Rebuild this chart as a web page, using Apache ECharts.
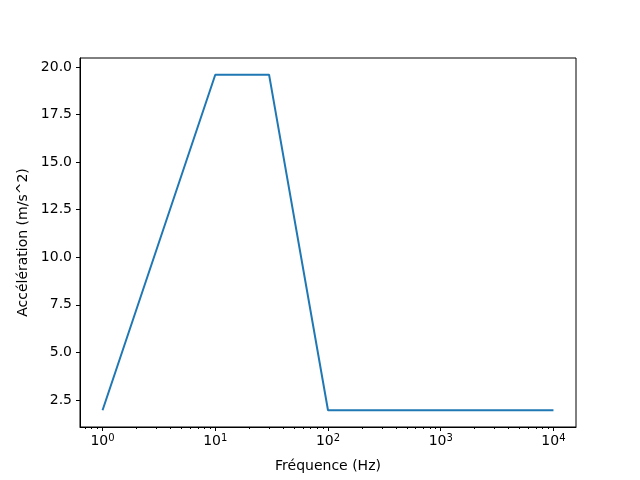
<!DOCTYPE html>
<html>
<head>
<meta charset="utf-8">
<script src="https://cdn.jsdelivr.net/npm/echarts@6/dist/echarts.min.js"></script>
<style>
  html, body { margin: 0; padding: 0; background: #fff; }
  #main { width: 640px; height: 480px; }
</style>
</head>
<body>
<div id="main"></div>
<script>
// données
var frequences = [1, 10, 30, 100, 10000];
var accelerations = [1.96, 19.6, 19.6, 1.96, 1.96];
var xMajor = [1, 10, 100, 1000, 10000];
var xMinor = [0.7, 0.8, 0.9, 2, 3, 4, 5, 6, 7, 8, 9, 20, 30, 40, 50, 60, 70, 80, 90,
  200, 300, 400, 500, 600, 700, 800, 900, 2000, 3000, 4000, 5000, 6000, 7000, 8000, 9000];
var yTicks = [2.5, 5, 7.5, 10, 12.5, 15, 17.5, 20];

var font = "DejaVu Sans";
var myChart = echarts.init(document.getElementById("main"));

var points = frequences.map(function (f, i) {
  return [f, accelerations[i]];
});

myChart.setOption({
  backgroundColor: "#fff",
  animation: false,
  grid: {
    left: 80,
    right: 64,
    top: 58,
    bottom: 53,
    show: true,
    borderColor: "#000",
    borderWidth: 1,
  },
  xAxis: [
    {
      type: "log",
      logBase: 10,
      min: Math.pow(10, -0.2),
      max: Math.pow(10, 4.2),
      position: "bottom",
      name: "Fréquence (Hz)",
      nameLocation: "middle",
      nameGap: 32,
      nameTextStyle: { fontFamily: font, fontSize: 14, color: "#000" },
      axisLine: { show: true, lineStyle: { color: "#000", width: 1 } },
      axisTick: { show: true, length: 4, lineStyle: { color: "#000" }, customValues: xMajor },
      splitLine: { show: false },
      axisLabel: {
        customValues: xMajor,
        margin: 6,
        fontFamily: font,
        fontSize: 14,
        color: "#000",
        formatter: function (v) {
          return "10{sup|" + Math.round(Math.log10(v)) + "}";
        },
        rich: {
          sup: { fontFamily: font, fontSize: 10, color: "#000", padding: [0, 0, 7, 0] },
        },
      },
    },
    {
      type: "log",
      logBase: 10,
      min: Math.pow(10, -0.2),
      max: Math.pow(10, 4.2),
      position: "bottom",
      axisLine: { show: false },
      axisTick: { show: true, length: 2, lineStyle: { color: "#000" }, customValues: xMinor },
      axisLabel: { show: false },
      splitLine: { show: false },
    },
  ],
  yAxis: {
    type: "value",
    min: 1.078,
    max: 20.478,
    name: "Accélération (m/s^2)",
    nameLocation: "middle",
    nameGap: 46,
    nameTextStyle: { fontFamily: font, fontSize: 14, color: "#000" },
    axisLine: { show: true, lineStyle: { color: "#000", width: 1 } },
    axisTick: { show: true, length: 4, lineStyle: { color: "#000" }, customValues: yTicks },
    splitLine: { show: false },
    axisLabel: {
      customValues: yTicks,
      margin: 8,
      fontFamily: font,
      fontSize: 14,
      color: "#000",
      formatter: function (v) {
        return v.toFixed(1);
      },
    },
  },
  series: [
    {
      type: "line",
      xAxisIndex: 0,
      data: points,
      showSymbol: false,
      symbol: "none",
      lineStyle: { color: "#1f77b4", width: 2 },
    },
  ],
});
</script>
</body>
</html>
